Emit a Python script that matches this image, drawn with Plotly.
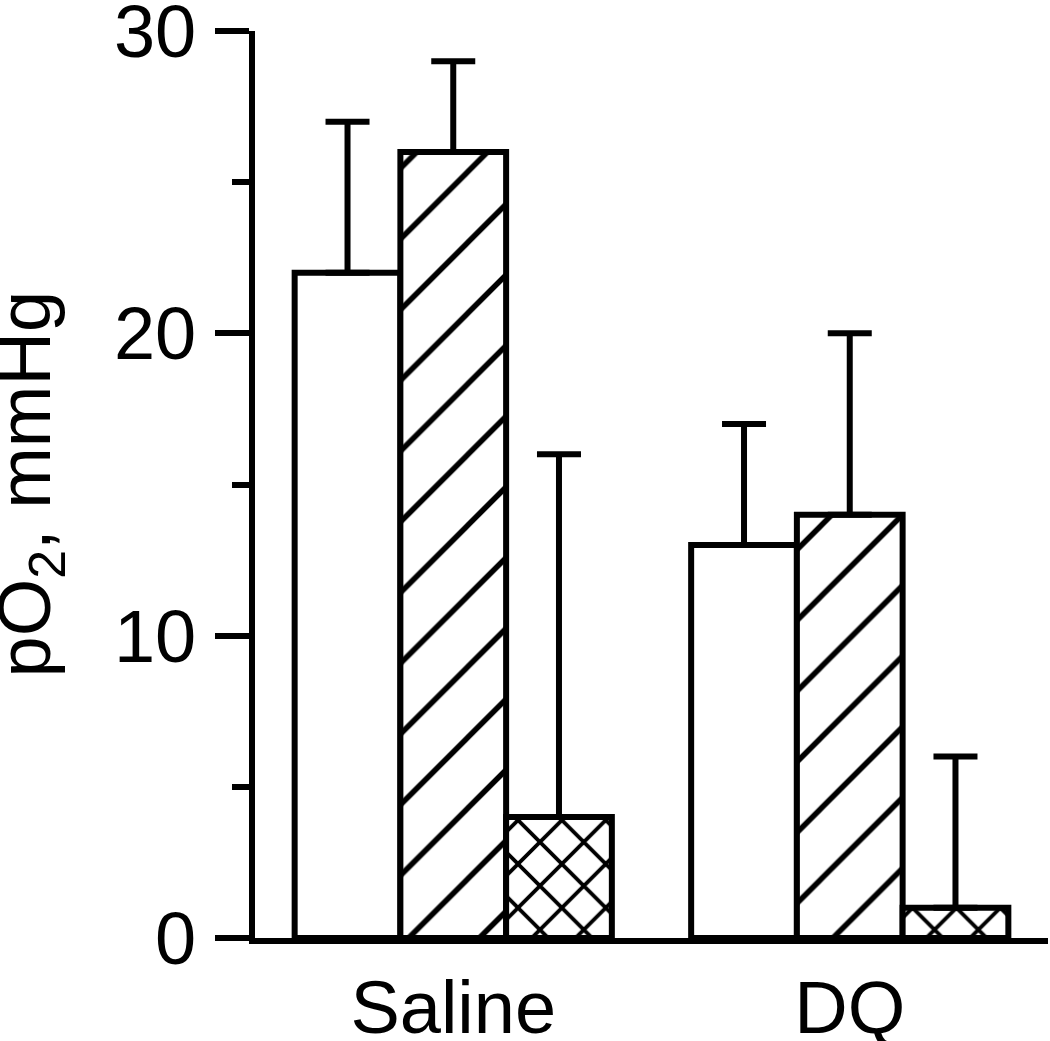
import plotly.graph_objects as go

GROUPS = ["Saline", "DQ"]
SERIES_NAMES = ["open", "hatched", "cross-hatched"]
MEANS = [
    [22, 13],
    [26, 14],
    [4, 1],
]
ERRORS = [
    [5, 4],
    [3, 6],
    [12, 5],
]
PATTERNS = ["", "/", "x"]
PATTERN_SIZES = [10, 50, 31]
PATTERN_SOLIDITY = [0.1, 0.11, 0.23]

Y_TICKS = [0, 10, 20, 30]
Y_TITLE = "pO<sub>2</sub>, mmHg"

FONT = "Arial, Liberation Sans, sans-serif"
FONT_SIZE = 74
LINE_W = 6
PLOT_LEFT = 255

fig = go.Figure()
for name, means, errors, shape, size, solidity in zip(
    SERIES_NAMES, MEANS, ERRORS, PATTERNS, PATTERN_SIZES, PATTERN_SOLIDITY
):
    fig.add_trace(
        go.Bar(
            name=name,
            x=GROUPS,
            y=means,
            marker={
                "color": "white",
                "line": {"color": "black", "width": LINE_W},
                "pattern": {
                    "shape": shape,
                    "size": size,
                    "solidity": solidity,
                    "fgcolor": "black",
                    "fgopacity": 1,
                    "bgcolor": "white",
                },
            },
            error_y={
                "type": "data",
                "array": errors,
                "arrayminus": [0] * len(errors),
                "symmetric": False,
                "color": "black",
                "thickness": LINE_W,
                "width": 22,
            },
        )
    )

# axis title as an annotation, so it can sit close to the page edge
fig.add_annotation(
    text=Y_TITLE,
    xref="paper",
    yref="paper",
    x=0,
    y=0.5,
    xanchor="center",
    yanchor="middle",
    xshift=29 - PLOT_LEFT,
    textangle=-90,
    showarrow=False,
    font={"family": FONT, "size": FONT_SIZE, "color": "black"},
)

fig.update_layout(
    width=1050,
    height=1041,
    barmode="group",
    bargap=0.2,
    bargroupgap=0,
    showlegend=False,
    plot_bgcolor="white",
    paper_bgcolor="white",
    font={"family": FONT, "size": FONT_SIZE, "color": "black"},
    margin={"l": PLOT_LEFT, "r": 2, "t": 31, "b": 103, "autoexpand": False},
    xaxis={
        "showline": True,
        "linecolor": "black",
        "linewidth": LINE_W,
        "ticks": "",
        "showgrid": False,
        "automargin": False,
        "ticklabelstandoff": 0,
        "ticklabeloverflow": "allow",
    },
    yaxis={
        "range": [0, 30],
        "tickvals": Y_TICKS,
        "showline": True,
        "linecolor": "black",
        "linewidth": LINE_W,
        "ticks": "outside",
        "ticklen": 34,
        "tickwidth": LINE_W,
        "tickcolor": "black",
        "showgrid": False,
        "zeroline": False,
        "automargin": False,
        "ticklabelstandoff": 4,
        "ticklabeloverflow": "allow",
        "minor": {
            "dtick": 5,
            "ticks": "outside",
            "ticklen": 17,
            "tickwidth": LINE_W,
            "tickcolor": "black",
            "showgrid": False,
        },
    },
)

# drop the default body margin so the figure starts at the page corner
fig.write_html(
    "out.html",
    config={"displayModeBar": False},
    post_script="document.body.style.margin = '0';",
)
